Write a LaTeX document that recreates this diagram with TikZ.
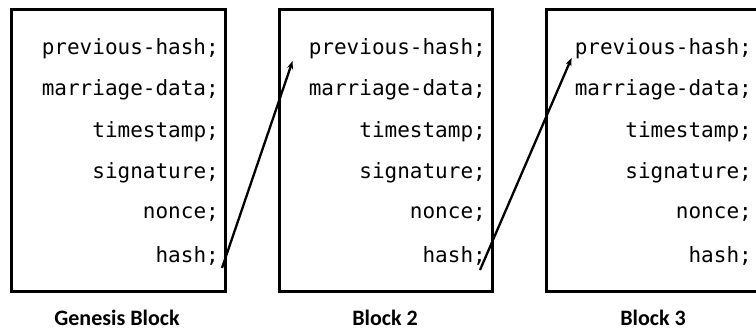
\documentclass[tikz,border=0pt]{standalone}
\usepackage{fontspec}
\setmonofont{DejaVu Sans Mono}
\newfontfamily\labelfont{Carlito}
\usetikzlibrary{arrows.meta}
\begin{document}
\begin{tikzpicture}[x=1pt,y=1pt,
  blockbox/.style={draw=black,line width=3pt},
  field/.style={anchor=east,inner sep=0pt,font=\fontsize{21}{25}\selectfont\ttfamily},
  caption/.style={font=\fontsize{22}{26}\selectfont\labelfont\bfseries},
  link/.style={line width=2.3pt,-{Stealth[length=8pt,width=6pt]}}]
\useasboundingbox (0,0) rectangle (756,331);
% boxes
\draw[blockbox] (11,39) rectangle (225,321);
\draw[blockbox] (279,39) rectangle (492,321);
\draw[blockbox] (546,39) rectangle (762,321);
% fields
\foreach \b/\x in {1/219,2/486,3/752}{
  \node[field] (p\b) at (\x,282) {previous-hash;};
  \node[field] (m\b) at (\x,241) {marriage-data;};
  \node[field] (t\b) at (\x,199) {timestamp;};
  \node[field] (s\b) at (\x,158) {signature;};
  \node[field] (n\b) at (\x,117) {nonce;};
  \node[field] (h\b) at (\x,75) {hash;};
}
% captions
\node[caption] (c1) at (117,13) {Genesis Block};
\node[caption] (c2) at (385,13) {Block 2};
\node[caption] (c3) at (653,13) {Block 3};
% arrows
\draw[link] ([xshift=3pt,yshift=-12pt]h1.east) -- ([xshift=-16pt,yshift=-12pt]p2.west);
\draw[link] ([xshift=-6pt,yshift=-14pt]h2.east) -- ([xshift=-3pt,yshift=-9pt]p3.west);
\end{tikzpicture}
\end{document}
